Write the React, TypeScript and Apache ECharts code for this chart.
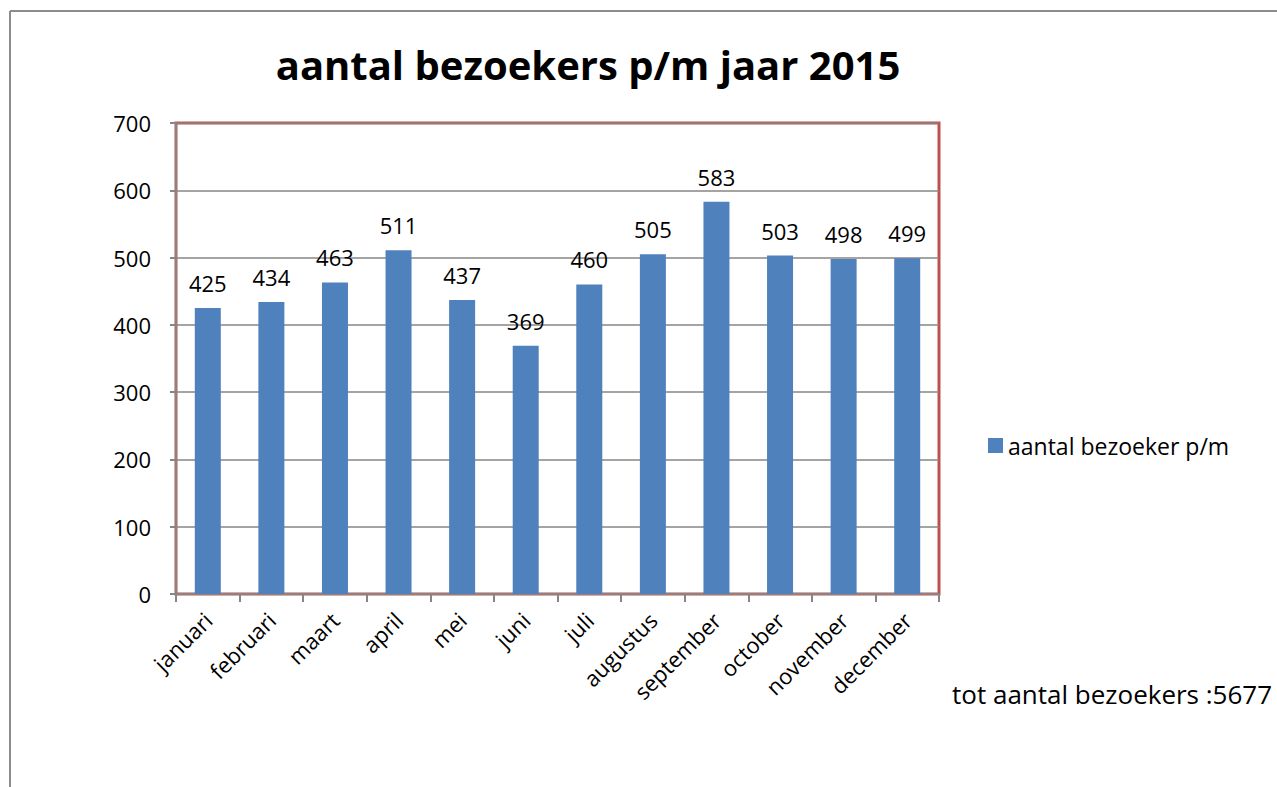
import React, { useEffect, useRef } from "react";
import * as echarts from "echarts";

const months = ["januari", "februari", "maart", "april", "mei", "juni", "juli", "augustus", "september", "october", "november", "december"];
const visitors = [425, 434, 463, 511, 437, 369, 460, 505, 583, 503, 498, 499];
const seriesName = "aantal bezoeker p/m";
const titleText = "aantal bezoekers p/m jaar 2015";
const totalText = "tot aantal bezoekers :5677";

const FONT = "'Open Sans', sans-serif";

export default function App() {
  const ref = useRef<HTMLDivElement>(null);
  useEffect(() => {
    if (!ref.current) return;
    const chart = echarts.init(ref.current, null, { renderer: "svg" });
    chart.setOption({
      animation: false,
      backgroundColor: "#ffffff",
      textStyle: { fontFamily: FONT },
      title: {
        text: titleText,
        left: 583,
        top: 39,
        textAlign: "center",
        textStyle: { fontFamily: FONT, fontSize: 40, fontWeight: "bold", color: "#000" },
      },
      legend: {
        show: true,
        left: 983,
        top: 429,
        itemWidth: 15,
        itemHeight: 15,
        itemGap: 8,
        icon: "rect",
        textStyle: { fontFamily: FONT, fontSize: 23, color: "#000" },
        data: [seriesName],
      },
      grid: {
        left: 176,
        right: 338,
        top: 123,
        bottom: 193,
        show: true,
        borderColor: "#C0504D",
        borderWidth: 3,
        backgroundColor: "transparent",
      },
      xAxis: {
        type: "category",
        data: months,
        axisLine: { show: true, lineStyle: { color: "#868686", width: 2 } },
        axisTick: { show: true, length: 8, alignWithLabel: false, lineStyle: { color: "#868686", width: 2 } },
        axisLabel: { rotate: 45, fontSize: 22, color: "#000", fontFamily: FONT, margin: 22, interval: 0 },
        splitLine: { show: false },
      },
      yAxis: {
        type: "value",
        min: 0,
        max: 700,
        interval: 100,
        axisLine: { show: true, lineStyle: { color: "#868686", width: 2 } },
        axisTick: { show: true, length: 6, lineStyle: { color: "#868686", width: 2 } },
        axisLabel: { fontSize: 22, color: "#000", fontFamily: FONT, margin: 25 },
        splitLine: { show: true, lineStyle: { color: "#868686", width: 1.5 } },
      },
      series: [
        {
          name: seriesName,
          type: "bar",
          data: visitors,
          barWidth: 26,
          itemStyle: { color: "#4F81BD" },
          label: { show: true, position: "top", distance: 14, fontSize: 22, color: "#000", fontFamily: FONT },
        },
      ],
      graphic: [
        { type: "line", shape: { x1: 10, y1: 11, x2: 10, y2: 787 }, style: { stroke: "#8c8c8c", lineWidth: 2 } },
        { type: "line", shape: { x1: 10, y1: 11, x2: 1277, y2: 11 }, style: { stroke: "#8c8c8c", lineWidth: 2 } },
        {
          type: "text",
          left: 952,
          top: 681,
          style: { text: totalText, fontFamily: FONT, fontSize: 26, fill: "#000" },
        },
      ],
    });
    return () => chart.dispose();
  }, []);
  return <div ref={ref} style={{ position: "fixed", left: 0, top: 0, width: 1277, height: 787 }} />;
}
